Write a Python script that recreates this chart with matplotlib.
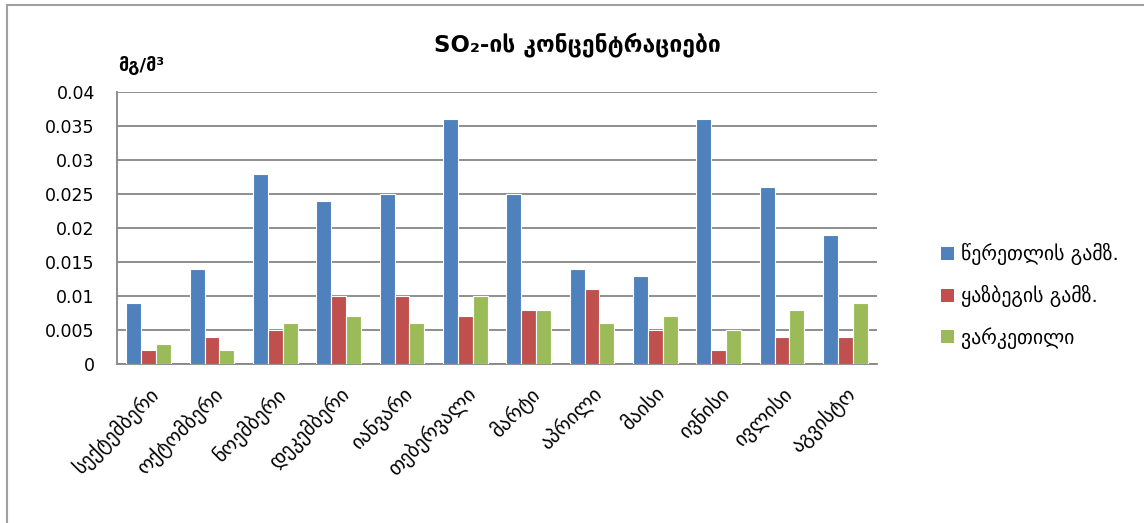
import numpy as np
import matplotlib
matplotlib.use("Agg")
import matplotlib.pyplot as plt
from matplotlib.lines import Line2D
from matplotlib.patches import Patch

plt.rcParams['font.family'] = ['DejaVu Sans']

months = ["სექტემბერი", "ოქტომბერი", "ნოემბერი", "დეკემბერი", "იანვარი", "თებერვალი",
          "მარტი", "აპრილი", "მაისი", "ივნისი", "ივლისი", "აგვისტო"]
series_names = ["წერეთლის გამზ.", "ყაზბეგის გამზ.", "ვარკეთილი"]
tsereteli = [0.009, 0.014, 0.028, 0.024, 0.025, 0.036, 0.025, 0.014, 0.013, 0.036, 0.026, 0.019]
kazbegi = [0.002, 0.004, 0.005, 0.010, 0.010, 0.007, 0.008, 0.011, 0.005, 0.002, 0.004, 0.004]
varketili = [0.003, 0.002, 0.006, 0.007, 0.006, 0.010, 0.008, 0.006, 0.007, 0.005, 0.008, 0.009]
yticks = [0, 0.005, 0.01, 0.015, 0.02, 0.025, 0.03, 0.035, 0.04]
ytick_labels = ["0", "0.005", "0.01", "0.015", "0.02", "0.025", "0.03", "0.035", "0.04"]
colors = ["#4F81BD", "#C0504D", "#9BBB59"]

W, H = 1144, 523
fig = plt.figure(figsize=(W / 100, H / 100), dpi=100)
ax = fig.add_axes([117 / W, 1 - 364 / H, (877 - 117) / W, (364 - 92) / H])

x = np.arange(len(months))
bw = 0.235
for i, (vals, c) in enumerate(zip([tsereteli, kazbegi, varketili], colors)):
    ax.bar(x + (i - 1) * bw, vals, width=bw, color=c, edgecolor="white",
           linewidth=0.8, zorder=3)

ax.set_xlim(-0.5, len(months) - 0.5)
ax.set_ylim(0, 0.04)
ax.set_yticks(yticks)
ax.set_yticklabels(ytick_labels, fontsize=12.5)
ax.yaxis.grid(True, color="#868686", linewidth=1.3, zorder=0)
ax.set_axisbelow(True)
ax.tick_params(axis="y", length=0, pad=16)
ax.tick_params(axis="x", length=0, pad=14)
ax.set_xticks(x)
ax.set_xticklabels(months, rotation=45, ha="right", rotation_mode="anchor", fontsize=14.5)
for side in ["top", "right"]:
    ax.spines[side].set_visible(False)
for side in ["left", "bottom"]:
    ax.spines[side].set_color("#868686")
    ax.spines[side].set_linewidth(1.3)

fig.text(577 / W, 1 - 45 / H, "SO₂-ის კონცენტრაციები", ha="center", va="center",
         fontsize=16.5, fontweight="bold")
fig.text(118 / W, 1 - 66 / H, "მგ/მ³", ha="left", va="center", fontsize=13,
         fontweight="bold")

handles = [Patch(facecolor=c, edgecolor="none") for c in colors]
fig.legend(handles, series_names, loc="center left", bbox_to_anchor=(923 / W, 1 - 296 / H),
           frameon=False, fontsize=14.2, handlelength=0.65, handleheight=0.65,
           handletextpad=0.4, labelspacing=1.0)

# outer chart frame
fig.add_artist(Line2D([7 / W, 7 / W], [0, 1 - 5 / H], color="#A0A0A0", linewidth=1.5,
                      transform=fig.transFigure))
fig.add_artist(Line2D([7 / W, 1], [1 - 5 / H, 1 - 5 / H], color="#A0A0A0", linewidth=1.5,
                      transform=fig.transFigure))

fig.savefig("out.png", dpi=100)
